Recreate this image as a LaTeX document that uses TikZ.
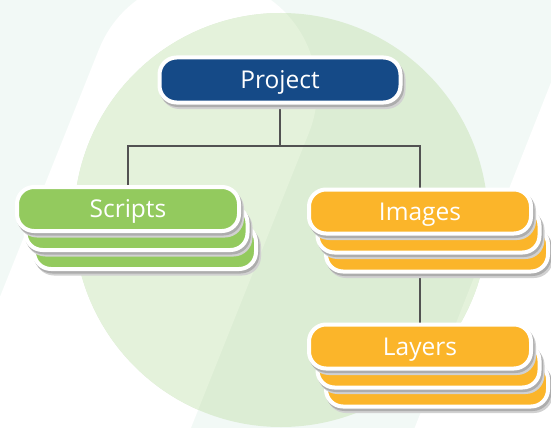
\documentclass[tikz,border=0pt]{standalone}
\usepackage{fontspec}
\setsansfont{Open Sans}
\usepackage{tikz}
\usetikzlibrary{positioning}
\definecolor{projblue}{HTML}{154A87}
\definecolor{leaf}{HTML}{93CA5E}
\definecolor{amber}{HTML}{FBB52A}
\definecolor{mint}{HTML}{F2F9F6}
\definecolor{disc}{HTML}{DCEDD4}
\definecolor{disclight}{HTML}{E4F2DB}
\definecolor{wirecol}{HTML}{525252}
\pgfdeclarelayer{back}
\pgfdeclarelayer{stack}
\pgfsetlayers{back,stack,main}

\begin{document}
\begin{tikzpicture}[
x=1pt, y=-1pt,
card/.style={rectangle, rounded corners=17pt, draw=white, line width=4pt, inner sep=0pt, outer sep=0pt,
  minimum width=222pt, minimum height=44pt, text=white, text depth=0pt,
  font=\sffamily\fontsize{24.5}{28}\selectfont,
  preaction={draw=black!18, fill=black!18, transform canvas={shift={(3pt,-4.5pt)}}},
  preaction={draw=black!32, fill=black!32, transform canvas={shift={(1.5pt,-2.5pt)}}}},
wire/.style={draw=wirecol, line width=1.8pt},
band/.style={line width=226pt, line cap=round}]

\useasboundingbox (0,0) rectangle (551,428);

\begin{pgfonlayer}{back}
\fill[mint] (0,0) rectangle (551,428);
\draw[band, white] (204,91) -- (44,491);
\draw[band, white] (660,114) -- (480,570);
\fill[disc] (281,220) circle (207pt);
\begin{scope}
\clip (281,220) circle (207pt);
\draw[band, disclight] (204,91) -- (44,491);
\draw[band, disclight] (660,114) -- (480,570);
\end{scope}
\end{pgfonlayer}

\node[card, fill=projblue, minimum width=241pt, minimum height=45pt] (proj) at (280,80) {Project};
\node[card, fill=leaf] (scripts) [below = 84.5pt of proj, xshift=-152pt] {Scripts};
\node[card, fill=amber] (images) [below = 87pt of proj, xshift=140pt] {Images};
\node[card, fill=amber] (layers) [below = 91pt of images] {Layers};

\begin{pgfonlayer}{stack}
\draw[wire] (proj.south) -- ++(0,-43.5pt) coordinate (fork);
\draw[wire] (scripts.north) |- (fork) -| (images.north);
\draw[wire] (images.south) -- (layers.north);
\foreach \n/\col in {scripts/leaf, images/amber, layers/amber}
  \foreach \k in {2,1}
    \node[card, fill=\col] at ([shift={(\k*8.5,\k*19)}]\n.center) {};
\end{pgfonlayer}
\end{tikzpicture}
\end{document}
